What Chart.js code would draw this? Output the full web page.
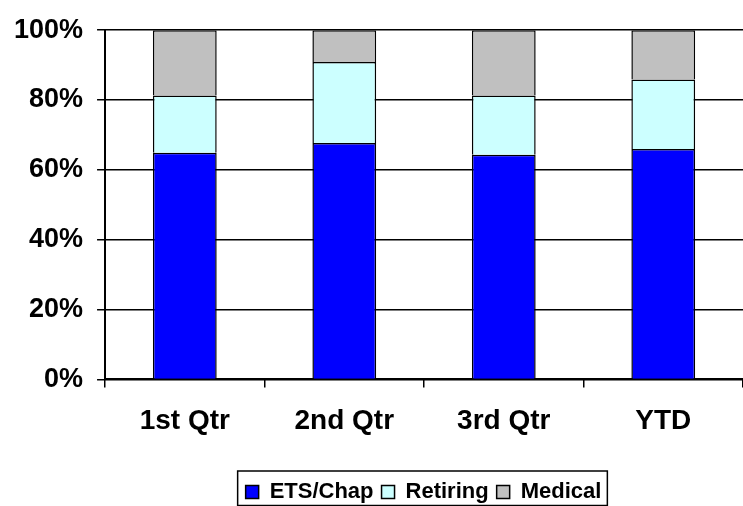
<!DOCTYPE html>
<html>
<head>
<meta charset="utf-8">
<script src="https://cdn.jsdelivr.net/npm/chart.js@4/dist/chart.umd.min.js"></script>
<style>
  html, body { margin: 0; padding: 0; background: #fff; }
  #wrap { width: 743px; height: 506px; }
</style>
</head>
<body>
<div id="wrap"><canvas id="chart"></canvas></div>
<script>
// Chart data (percent of total per quarter)
var categories = ["1st Qtr", "2nd Qtr", "3rd Qtr", "YTD"];
var etsChap = [64.9, 67.7, 64.3, 66.0];
var retiring = [16.4, 23.2, 17.0, 19.9];
var medical = [18.7, 9.1, 18.7, 14.1];
var yTicks = [0, 20, 40, 60, 80, 100];

// moves the legend under the plot area and draws the box round it
var legendBox = {
    id: 'legendBox',
    afterUpdate: function(chart) {
        var lg = chart.legend;
        var dx = 52, dy = 7;
        lg.left += dx; lg.right += dx;
        lg.top += dy; lg.bottom += dy;
        lg.legendHitBoxes.forEach(function(b) {
            b.left += dx;
            b.top += dy;
        });
    },
    afterDraw: function(chart) {
        var boxes = chart.legend.legendHitBoxes;
        if (!boxes || !boxes.length) return;
        var left = boxes[0].left, right = 0, top = boxes[0].top;
        boxes.forEach(function(b) {
            left = Math.min(left, b.left);
            right = Math.max(right, b.left + b.width);
            top = Math.min(top, b.top);
        });
        var ctx = chart.ctx;
        ctx.save();
        ctx.strokeStyle = '#000';
        ctx.lineWidth = 1.5;
        ctx.strokeRect(left - 8, top - 10, right - left + 14, 34.5);
        ctx.restore();
    }
};

var ctx = document.getElementById("chart");

var chartData = {
    labels: categories,
    datasets: [{
        label: "ETS/Chap",
        data: etsChap,
        backgroundColor: '#0000FF',
        borderColor: '#000',
        borderWidth: 1.5
    }, {
        label: "Retiring",
        data: retiring,
        backgroundColor: '#CCFFFF',
        borderColor: '#000',
        borderWidth: 1.5
    }, {
        label: "Medical",
        data: medical,
        backgroundColor: '#C0C0C0',
        borderColor: '#000',
        borderWidth: 1.5
    }]
};

var chartOptions = {
    responsive: true,
    maintainAspectRatio: false,
    animation: false,
    layout: { padding: { left: 0, right: 0, top: 8, bottom: 0 } },
    datasets: {
        bar: { categoryPercentage: 1.0, barPercentage: 0.4 }
    },
    scales: {
        x: {
            stacked: true,
            afterFit: function(axis) { axis.height += 11; },
            border: { color: '#000', width: 2 },
            grid: { drawOnChartArea: false, color: '#000', lineWidth: 1.5, tickLength: 8, offset: true },
            ticks: {
                color: '#000',
                padding: 17,
                font: { family: 'Liberation Sans, Arial', size: 28, weight: 'bold' }
            }
        },
        y: {
            stacked: true,
            min: 0,
            max: 100,
            afterBuildTicks: function(axis) {
                axis.ticks = yTicks.map(function(v) { return { value: v }; });
            },
            border: { color: '#000', width: 2 },
            grid: { color: '#000', lineWidth: 1.5, tickLength: 8 },
            ticks: {
                color: '#000',
                padding: 14,
                font: { family: 'Liberation Sans, Arial', size: 27, weight: 'bold' },
                callback: function(v) { return v + '%'; }
            }
        }
    },
    plugins: {
        tooltip: { enabled: false },
        legend: {
            position: 'bottom',
            labels: {
                color: '#000',
                boxWidth: 13,
                boxHeight: 13,
                padding: 8,
                font: { family: 'Liberation Sans, Arial', size: 22, weight: 'bold' }
            }
        }
    }
};

var config = {
    type: 'bar',
    options: chartOptions,
    data: chartData,
    plugins: [legendBox]
};

// Create the chart
var stackedChart = new Chart(ctx, config);
</script>
</body>
</html>
